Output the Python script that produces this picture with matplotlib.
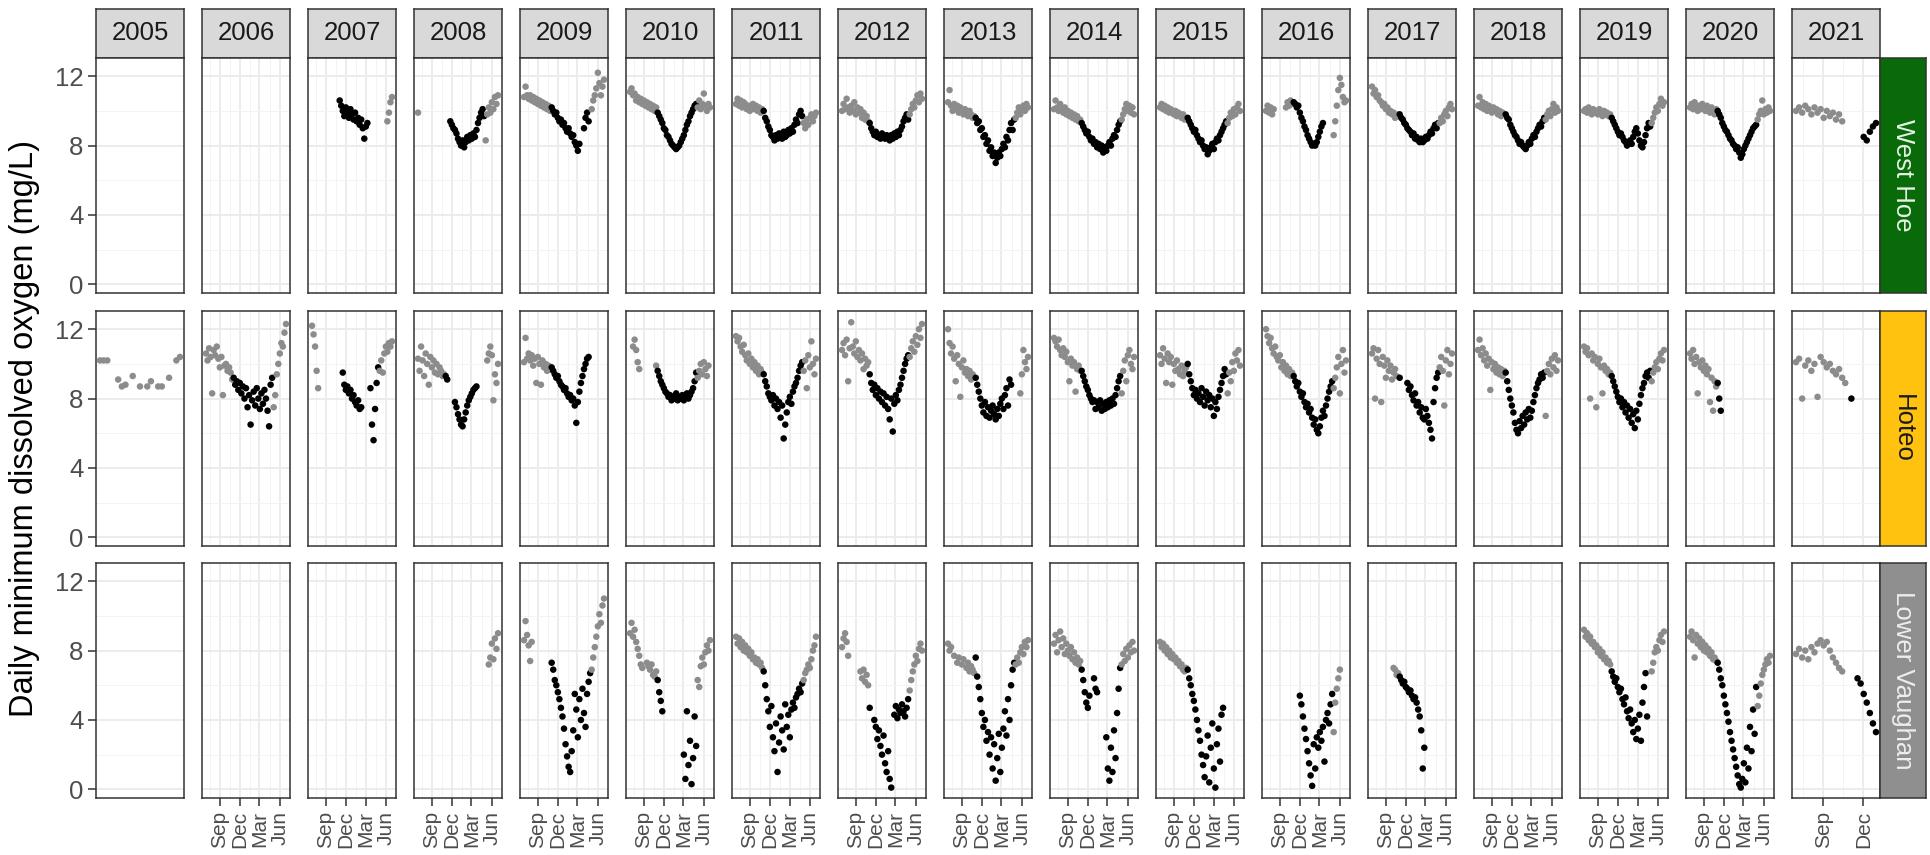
import datetime as dt

import matplotlib
matplotlib.use("Agg")
import matplotlib.dates as mdates
import matplotlib.pyplot as plt

plt.rcParams["font.family"] = ["Liberation Sans", "DejaVu Sans"]

YEARS = list(range(2005, 2022))
SITES = ["West Hoe", "Hoteo", "Lower Vaughan"]
STRIP_FILL = {"West Hoe": "#096a09", "Hoteo": "#ffc20e", "Lower Vaughan": "#8f8f8f"}
STRIP_INK = {"West Hoe": "#e4f3e4", "Hoteo": "#1a1a1a", "Lower Vaughan": "#eeeeee"}
SUMMER_MONTHS = (11, 12, 1, 2, 3, 4)
Y_TICKS = [0, 4, 8, 12]
Y_MINOR = [2, 6, 10]
Y_LABEL = "Daily minimum dissolved oxygen (mg/L)"

# Daily-minimum DO sampled weekly; each season starts 1 July of its year.
# season -> list of (first week after 1 July, consecutive weekly values)
WEST_HOE = {
    2007: [(18, [10.6, 10.3, 10.0, 9.7, 10.2, 9.9, 9.6, 10.1, 9.8, 9.5, 9.9, 9.4, 9.6, 9.2, 9.5, 9.0, 8.4, 9.1, 9.3]),
           (49, [9.4, 9.9, 10.5, 10.8])],
    2008: [(0, [9.9]),
           (21, [9.4, 9.2, 9.0, 8.9, 8.7, 8.4, 8.2, 8.0, 8.3, 7.9, 8.2, 8.5, 8.3, 8.6, 8.4, 8.7, 8.5, 8.9, 9.3, 9.6,
                 9.9, 10.1, 9.7,
                 8.3, 9.8, 10.2, 9.9, 10.5, 10.1, 10.8, 10.4, 10.9])],
    2009: [(0, [10.8, 11.4, 10.9, 10.7, 10.9, 10.6, 10.8, 10.5, 10.7, 10.4, 10.6, 10.3, 10.5, 10.2, 10.4, 10.1, 10.3, 10.0,
                10.2, 10.0, 9.8, 9.9, 9.6, 9.4, 9.5, 9.2, 9.3, 9.0, 8.8, 9.0, 8.7, 8.5, 8.6, 8.2, 8.0, 7.7, 8.1]),
           (39, [9.0, 9.6, 9.9, 9.4]),
           (44, [10.1, 10.6, 10.9, 11.3, 12.2, 11.6, 10.9, 11.4, 11.8])],
    2010: [(0, [11.1, 11.3, 10.9, 11.0, 10.6, 10.8, 10.5, 10.7, 10.4, 10.6, 10.3, 10.5, 10.2, 10.4, 10.1, 10.3, 10.0, 10.2,
                9.9, 9.7, 9.5, 9.3, 9.0, 8.9, 8.6, 8.5, 8.3, 8.1, 8.0, 7.9, 7.8, 7.9, 8.0, 8.2, 8.4, 8.6, 8.9, 9.2,
                9.4, 9.7, 9.9, 10.1, 10.3, 10.4,
                10.2, 10.6, 10.1, 10.4, 11.0, 10.3, 10.0, 10.4, 10.2])],
    2011: [(0, [10.4, 10.7, 10.3, 10.6, 10.2, 10.5, 10.4, 10.1, 10.3, 10.0, 10.2, 10.4, 10.1, 10.3, 10.0, 10.2, 9.9, 10.1,
                10.0, 9.6, 9.4, 9.1, 8.9, 8.6, 8.5, 8.3, 8.6, 8.4, 8.7, 8.5, 8.4, 8.8, 8.5, 8.6, 8.9, 8.7, 9.0, 8.8,
                9.2, 9.5, 9.3, 9.8, 10.0, 9.7,
                9.3, 9.0, 9.5, 9.2, 9.6, 9.8, 9.4, 9.7, 9.9])],
    2012: [(0, [10.0, 10.4, 10.1, 10.7, 10.2, 9.9, 10.3, 10.0, 10.5, 9.8, 10.2, 9.9, 10.1, 9.6, 9.9, 9.5, 9.7, 9.4,
                9.3, 9.0, 8.8, 8.6, 8.8, 8.5, 8.6, 8.4, 8.7, 8.5, 8.4, 8.6, 8.5, 8.3, 8.6, 8.4, 8.7, 8.5, 8.8, 8.6,
                8.9, 9.1, 9.4, 9.6, 9.8, 9.5,
                9.8, 10.1, 10.4, 10.2, 10.6, 10.9, 10.5, 11.0, 10.7])],
    2013: [(0, [10.5, 11.2, 10.3, 10.0, 10.4, 10.1, 10.3, 9.9, 10.2, 10.0, 9.8, 10.1, 9.9, 9.7, 10.0, 9.8, 9.6, 9.7,
                9.6, 9.3, 9.4, 8.9, 9.0, 8.5, 8.6, 8.1, 8.3, 7.7, 7.9, 7.4, 7.6, 7.0, 7.3, 7.6, 7.4, 7.8, 8.1, 7.9,
                8.5, 8.3, 8.9, 9.3, 8.9, 9.5,
                9.6, 9.9, 10.2, 9.8, 10.1, 10.3, 10.0, 10.4, 10.2])],
    2014: [(0, [10.1, 10.6, 10.2, 10.0, 10.4, 10.1, 9.9, 10.2, 9.8, 10.0, 9.7, 9.9, 9.6, 9.8, 9.5, 9.7, 9.4, 9.5,
                9.3, 9.1, 8.9, 8.7, 8.8, 8.5, 8.3, 8.4, 8.1, 8.2, 7.9, 8.1, 7.8, 8.0, 7.6, 7.9, 7.7, 8.0, 8.2, 8.0,
                8.4, 8.6, 8.5, 8.9, 9.2, 9.4,
                9.5, 9.8, 10.1, 10.4, 10.0, 10.3, 9.9, 10.2, 9.8])],
    2015: [(0, [10.2, 10.4, 10.1, 10.3, 10.0, 10.2, 9.9, 10.1, 10.0, 9.8, 10.0, 9.7, 9.9, 9.8, 9.6, 9.8, 9.5, 9.6,
                9.6, 9.4, 9.2, 9.0, 8.8, 8.9, 8.6, 8.4, 8.2, 8.3, 8.0, 7.8, 7.9, 7.5, 7.7, 7.9, 8.1, 7.8, 8.2, 8.4,
                8.3, 8.6, 8.8, 9.0, 9.2, 9.4,
                9.3, 9.6, 9.9, 9.7, 10.1, 9.8, 10.2, 10.4, 10.0])],
    2016: [(0, [10.0, 10.3, 9.9, 10.2, 9.8, 10.1]),
           (13, [10.2, 10.5, 10.3, 10.6, 10.4,
                 10.5, 10.4, 10.2, 10.3, 9.9, 9.6, 9.4, 9.1, 8.9, 8.6, 8.4, 8.2, 8.0, 8.1, 8.0, 8.2, 8.5, 8.8, 9.1, 9.3]),
           (44, [8.6, 9.4, 10.3, 11.2, 11.9, 11.5, 10.8, 10.5, 10.6])],
    2017: [(0, [11.4, 11.0, 11.2, 10.8, 10.9, 10.6, 10.5, 10.3, 10.4, 10.1, 10.2, 9.9, 10.0, 9.8, 9.9, 9.6, 9.7, 9.8,
                9.8, 9.6, 9.5, 9.3, 9.2, 9.0, 8.9, 8.8, 8.6, 8.7, 8.4, 8.5, 8.3, 8.2, 8.4, 8.2, 8.3, 8.5, 8.4, 8.6,
                8.8, 8.7, 9.0, 9.2, 9.0, 9.3,
                9.3, 9.6, 9.4, 9.8, 10.0, 9.7, 10.2, 10.4, 10.1])],
    2018: [(0, [10.3, 10.8, 10.2, 10.5, 10.1, 10.4, 10.0, 10.3, 10.2, 9.9, 10.2, 10.0, 10.1, 9.8, 10.0, 9.7, 9.9, 9.8,
                9.8, 9.6, 9.5, 9.2, 9.0, 8.8, 8.6, 8.5, 8.3, 8.1, 8.2, 8.0, 7.9, 7.8, 8.0, 8.2, 8.1, 8.4, 8.6, 8.5,
                8.8, 9.0, 9.2, 9.1, 9.4, 9.6,
                9.5, 9.8, 10.0, 9.7, 10.1, 10.4, 9.9, 10.2, 10.0])],
    2019: [(0, [10.0, 10.1, 9.9, 10.2, 10.0, 9.8, 10.1, 9.9, 10.0, 9.8, 10.1, 9.9, 9.7, 10.0, 9.8, 9.9, 9.7, 9.8,
                9.6, 9.4, 9.2, 9.0, 8.8, 8.6, 8.7, 8.5, 8.3, 8.2, 8.0, 8.1, 8.3, 8.1, 8.5, 8.8, 9.0, 8.7, 8.3, 8.0,
                7.9, 8.2, 8.6, 9.0, 9.3, 9.1,
                9.3, 9.6, 9.9, 10.2, 10.0, 10.4, 10.7, 10.3, 10.5])],
    2020: [(0, [10.2, 10.4, 10.1, 10.5, 10.2, 10.0, 10.3, 10.1, 10.4, 10.2, 10.0, 10.3, 10.1, 9.9, 10.2, 10.0, 9.8, 10.1,
                10.0, 9.8, 9.6, 9.3, 9.1, 8.9, 8.8, 8.6, 8.4, 8.3, 8.1, 8.0, 7.8, 7.9, 7.6, 7.3, 7.5, 7.8, 8.0, 8.2,
                8.4, 8.6, 8.8, 9.0, 9.1, 9.2,
                9.5, 9.8, 10.0, 10.6, 9.8, 10.1, 9.9, 10.2, 10.0])],
    2021: [(0, [10.0, 10.2, 9.9, 10.3, 10.1, 9.8, 10.2, 9.9, 10.1, 9.6, 10.0, 9.7, 9.9, 9.5, 9.8, 9.4]),
           (22, [8.5, 8.3, 8.8, 9.1, 9.3])],
}

HOTEO = {
    2006: [(0, [10.6, 10.2, 10.9, 10.4, 8.3, 10.8, 10.5, 11.0, 10.3, 9.8, 10.4, 8.2, 9.9, 10.0, 9.6, 9.8, 9.5, 9.1,
                9.2, 8.8, 9.0, 8.5, 8.9, 8.3, 8.7, 8.0, 8.6, 7.5, 8.2, 6.5, 7.9, 8.4, 7.6, 8.6, 8.0, 7.4, 8.3, 7.7,
                8.5, 8.0, 7.3, 6.4, 8.8, 9.2,
                7.5, 8.2, 9.4, 10.0, 10.6, 11.2, 11.0, 11.8, 12.3])],
    2007: [(0, [12.2, 11.7, 11.0, 9.6, 8.6]),
           (20, [9.5, 8.8, 8.5, 8.7, 8.3, 8.5, 8.0, 8.2, 7.8, 7.6, 7.9, 7.4, 7.5]),
           (38, [8.6, 6.5, 5.6, 7.4, 8.9, 9.8,
                 9.6, 10.2, 9.5, 10.6, 11.0, 10.7, 11.2, 11.0, 11.3])],
    2008: [(0, [10.3, 9.6, 11.0, 10.2, 9.3, 10.6, 10.0, 8.8, 10.4, 9.8, 10.2, 9.5, 10.0, 9.4, 9.8, 9.6, 9.3, 9.4,
                9.3, 9.1]),
           (24, [7.8, 7.5, 7.1, 6.8, 6.5, 6.4, 6.8, 7.2, 7.6, 7.9, 8.1, 8.3, 8.5, 8.6, 8.7]),
           (45, [10.2, 10.6, 11.0, 10.5, 7.9, 9.4, 8.9, 10.0])],
    2009: [(0, [10.1, 11.5, 10.3, 10.6, 10.2, 10.5, 9.9, 10.3, 8.9, 10.4, 10.0, 8.8, 10.2, 9.8, 10.0, 9.6, 9.9, 9.7,
                9.8, 9.6, 9.4, 9.2, 9.3, 9.0, 8.8, 8.7, 8.5, 8.6, 8.3, 8.1, 8.2, 7.9, 8.0, 7.6, 6.6, 7.8, 8.4, 8.9,
                9.3, 9.7, 10.0, 10.3, 10.4])],
    2010: [(2, [11.0, 11.4, 10.8, 10.1, 9.7]),
           (17, [9.9,
                 9.6, 9.3, 9.0, 8.8, 8.6, 8.4, 8.3, 8.1, 8.2, 7.9, 8.1, 8.0, 8.3, 7.9, 8.1, 8.0, 8.2, 7.9, 8.1, 8.3,
                 8.0, 8.2, 8.4, 8.6, 9.0, 9.5,
                 9.2, 9.6, 10.0, 9.4, 10.1, 9.7, 9.3, 9.9])],
    2011: [(0, [11.6, 11.3, 11.5, 11.0, 10.7, 11.1, 10.5, 10.2, 10.6, 10.0, 10.3, 9.8, 10.1, 9.6, 9.9, 9.4, 9.7, 9.5,
                9.4, 9.0, 8.7, 8.3, 8.1, 7.9, 8.2, 7.6, 8.0, 7.4, 7.8, 6.9, 7.6, 5.7, 6.5, 7.2, 7.8, 8.1, 7.7, 8.4,
                8.7, 8.9, 9.2, 9.6, 9.9, 10.1,
                9.6, 10.2, 8.6, 10.5, 9.8, 11.3, 10.0, 9.4, 10.3])],
    2012: [(0, [10.8, 11.2, 10.5, 11.4, 9.0, 10.9, 12.4, 11.0, 10.6, 11.3, 10.4, 10.8, 10.2, 10.6, 9.7, 10.3, 9.9, 10.1,
                9.4, 8.9, 8.5, 8.8, 8.2, 8.6, 8.0, 8.4, 7.8, 8.3, 7.6, 8.1, 7.4, 6.8, 8.0, 6.1, 7.7, 8.2, 7.9, 8.5,
                8.8, 9.2, 9.6, 10.0, 10.3, 10.5,
                10.4, 10.9, 11.3, 10.7, 11.6, 11.1, 12.0, 11.5, 12.3])],
    2013: [(0, [12.0, 11.2, 10.6, 11.0, 10.3, 9.0, 10.5, 10.0, 8.1, 9.8, 10.2, 9.5, 9.7, 9.3, 9.6, 9.1, 9.4, 9.2,
                9.2, 8.8, 8.4, 8.0, 7.6, 7.2, 7.8, 7.0, 7.5, 6.9, 7.3, 7.6, 7.1, 6.8, 7.4, 7.0, 7.7, 8.0, 7.4, 8.2,
                8.6, 7.6, 9.1, 8.8]),
           (47, [8.3, 9.4, 10.8, 10.1, 9.7, 10.4])],
    2014: [(0, [11.5, 11.3, 11.0, 11.4, 10.8, 10.5, 10.9, 10.4, 10.7, 10.1, 9.0, 10.3, 9.9, 10.1, 8.4, 9.7, 9.9, 9.6,
                9.6, 9.3, 9.0, 8.7, 8.5, 8.2, 8.0, 7.8, 7.9, 7.4, 7.8, 7.5, 7.9, 7.3, 7.7, 7.4, 7.8, 7.5, 7.9, 7.6,
                8.0, 7.7, 8.2, 8.6, 9.0, 9.3,
                8.3, 9.6, 10.2, 9.0, 10.5, 10.8, 10.0, 9.7, 10.4])],
    2015: [(0, [10.5, 10.0, 10.9, 10.3, 8.9, 10.6, 10.1, 10.4, 8.8, 10.0, 9.6, 10.2, 9.7, 9.4, 9.9, 9.3, 9.6, 9.8,
                10.0, 9.4, 9.0, 8.6, 8.2, 8.5, 8.0, 8.3, 7.8, 8.6, 8.1, 7.6, 8.4, 7.9, 8.2, 7.5, 8.0, 7.0, 7.8, 7.4,
                8.1, 8.5, 8.9, 9.3, 9.7, 9.4,
                8.3, 9.5, 9.0, 10.1, 9.6, 10.6, 10.2, 10.8, 9.9])],
    2016: [(0, [12.0, 11.6, 11.2, 11.5, 10.9, 10.6, 11.0, 10.4, 10.2, 10.5, 9.8, 10.1, 9.6, 9.9, 9.4, 9.7, 9.3, 9.5,
                9.3, 9.0, 8.7, 8.9, 8.4, 8.1, 8.3, 7.8, 7.5, 7.7, 7.2, 7.4, 6.9, 6.5, 6.8, 6.2, 6.0, 6.4, 6.9, 7.3,
                7.0, 7.6, 8.0, 8.4, 8.7, 9.0,
                8.6, 9.2, 9.8, 10.4, 8.3, 10.0, 10.8, 9.5, 10.2])],
    2017: [(0, [10.6, 10.9, 8.0, 10.3, 10.8, 10.0, 7.8, 10.4, 9.9, 9.2, 10.2, 9.6, 9.9, 9.1, 9.5, 9.7, 9.3]),
           (18, [9.2]),
           (23, [8.9, 8.5, 8.7, 8.2, 7.9, 8.3, 7.6, 7.8, 7.2, 7.5, 6.9, 6.8, 7.4, 7.0, 6.6, 6.2, 5.7, 7.8, 8.6,
                 9.2, 9.5,
                 9.8, 10.4, 9.6, 7.6, 10.2, 10.8, 9.4, 10.0, 10.6])],
    2018: [(0, [10.8, 11.4, 10.5, 10.9, 10.2, 10.6, 9.9, 10.3, 8.5, 10.1, 9.7, 10.0, 9.5, 9.8, 9.4, 9.7, 9.3, 9.6,
                9.5, 9.0, 8.5, 8.0, 7.6, 7.2, 6.6, 6.2, 6.0, 6.7, 6.3, 7.0, 6.5, 7.2, 6.8, 7.4, 6.9, 7.3, 7.8, 8.2,
                8.6, 8.9, 9.1, 9.4, 9.2, 9.5,
                7.0, 9.6, 10.0, 9.4, 10.3, 9.8, 10.5, 9.6, 10.2])],
    2019: [(0, [11.0, 10.7, 10.9, 10.5, 8.0, 10.6, 10.2, 10.4, 7.5, 10.0, 10.3, 9.8, 8.3, 9.9, 9.6, 9.7, 9.4, 9.5,
                9.3, 9.0, 8.7, 8.4, 8.1, 7.8, 8.0, 7.5, 7.8, 7.2, 7.6, 6.9, 7.4, 6.6, 7.1, 6.3, 7.3, 6.8, 7.7, 8.2,
                8.6, 8.9, 9.3, 9.5, 9.2, 9.6,
                9.0, 9.5, 9.8, 10.1, 9.7, 10.3, 10.6, 10.2, 10.8])],
    2020: [(0, [10.6, 10.3, 10.8, 10.0, 10.4, 8.3, 10.1, 9.8, 10.2, 9.6, 9.9, 9.4, 9.7, 7.8, 9.2, 7.3, 9.0, 8.7,
                8.9, 8.0, 7.3])],
    2021: [(0, [10.1, 10.3, 8.0, 9.9, 10.2, 9.6, 10.0, 8.1, 10.4, 10.1, 9.8, 10.0, 9.6, 9.4, 9.7, 9.2, 8.9]),
           (18, [8.0])],
}

# short run of daily readings at Hoteo in July 2005: (first day after 1 July, values)
HOTEO_2005_DAILY = [(3, [10.2, 10.2, 10.2]), (8, [9.1, 8.7, 8.8]), (12, [9.3]), (14, [8.7]),
                    (16, [8.7, 9.0]), (19, [8.7, 8.7]), (22, [9.2]), (24, [10.2, 10.4])]

LOWER_VAUGHAN = {
    2008: [(46, [7.2, 7.6, 8.4, 7.5, 8.7, 8.1, 9.0])],
    2009: [(0, [8.6, 9.7, 8.9, 8.3, 7.4, 8.5]),
           (18, [7.3, 6.9, 6.3, 6.0, 5.6, 5.2, 4.7, 4.2, 3.5, 2.6, 1.9, 1.3, 1.0, 2.2, 3.4, 5.5, 4.6, 3.0, 5.2, 4.0,
                 5.8, 4.4, 3.6, 5.5, 6.2, 6.7,
                 6.9, 7.6, 8.2, 8.8, 9.4, 10.1, 9.6, 10.6, 11.0])],
    2010: [(0, [9.0, 9.6, 8.8, 9.2, 8.5, 8.1, 7.7, 7.2, 7.0]),
           (11, [7.3, 7.1, 6.9, 7.2, 6.6, 6.5, 6.8, 6.3, 5.6, 5.1, 4.5]),
           (35, [2.0, 0.6, 4.5, 1.4, 2.8, 0.3, 1.8, 4.2, 2.5,
                 6.3, 5.9, 7.1, 7.6, 7.2, 7.9, 8.3, 8.0, 8.6])],
    2011: [(0, [8.8, 8.4, 8.7, 8.2, 8.5, 8.0, 8.3, 7.9, 8.1, 7.7, 7.9, 7.5, 7.6, 7.3, 7.5, 7.2, 7.3, 7.0,
                6.8, 6.0, 5.2, 4.5, 3.6, 4.8, 3.0, 2.2, 3.8, 1.0, 2.7, 4.2, 3.4, 2.3, 4.9, 3.6, 4.3, 3.0, 4.6, 5.0,
                4.7, 5.3, 5.5, 5.8, 5.6, 6.1,
                6.3, 6.7, 6.9, 7.2, 7.0, 7.5, 8.0, 8.3, 8.8])],
    2012: [(0, [8.2, 8.7, 9.0, 8.5, 7.7]),
           (12, [6.8, 6.4, 6.9, 6.2, 6.6, 6.0, 4.7]),
           (21, [4.0, 3.6, 2.9, 3.4, 2.5, 2.0, 3.1, 1.5, 1.0, 2.2, 0.6, 0.1]),
           (34, [4.3, 4.8, 4.1, 4.6, 4.4, 4.9, 4.5, 4.2, 4.7, 5.2,
                 5.7, 6.3, 6.8, 7.2, 7.7, 7.4, 8.1, 8.4, 8.0])],
    2013: [(0, [8.4, 8.0, 8.2]), (4, [7.7]), (6, [7.3, 7.6]), (9, [7.2, 7.5]),
           (12, [7.0, 7.3, 6.8, 7.1, 6.9, 6.7,
                 7.6, 6.5, 5.9, 5.2, 4.4, 3.6, 4.0, 2.8, 3.3, 2.0, 3.0, 1.2, 2.6, 0.5, 1.8, 3.2, 1.0, 2.4, 3.5, 4.5,
                 3.1, 5.2, 4.0, 6.0, 6.9, 7.3,
                 7.2, 7.6, 7.3, 7.9, 8.2, 7.8, 8.5, 8.2, 8.6])],
    2014: [(0, [8.4, 8.9, 7.9, 8.6, 9.1, 8.2, 8.7, 7.8, 8.4, 8.0, 7.7, 8.2, 7.5, 7.9, 7.3, 7.6, 7.2, 7.4,
                6.9, 6.3, 5.6, 5.0, 4.7, 5.4]),
           (26, [6.4, 5.8, 5.6]),
           (34, [3.0, 1.2, 0.5, 2.4, 1.0, 3.4, 1.8, 4.4, 5.8, 7.0,
                 7.2, 7.8, 7.4, 8.1, 7.6, 8.3, 7.9, 8.5, 8.0])],
    2015: [(0, [8.5, 8.2, 8.4, 8.0, 8.2, 7.8, 8.0, 7.6, 7.8, 7.5, 7.6, 7.3, 7.4, 7.1, 7.2, 6.9, 6.8, 7.0,
                6.9, 6.4, 6.0, 5.5, 5.1, 4.6, 4.0, 3.4, 2.8, 2.0, 1.4, 0.7, 1.9, 3.1, 0.4, 2.4, 3.8, 1.2, 0.1, 2.6,
                3.5, 1.6, 4.3, 4.7])],
    2016: [(22, [5.4, 4.9, 4.2, 3.5, 2.9, 2.2, 1.5, 0.8, 0.2, 2.6, 1.2, 3.0, 2.4, 3.3, 2.8, 3.6, 1.6, 4.0, 4.4, 3.8,
                 4.9, 5.5,
                 3.3, 5.0, 5.8, 6.4, 6.9])],
    2017: [(14, [7.0, 6.9, 6.6, 6.7,
                 6.5, 6.3, 6.1, 6.2, 5.9, 5.8, 5.6, 5.7, 5.4, 5.2, 5.3, 5.0, 4.6, 4.2, 3.4, 1.2, 2.4])],
    2019: [(0, [9.2, 8.8, 9.0, 8.6, 8.8, 8.4, 8.5, 8.2, 8.3, 7.9, 8.1, 7.7, 7.9, 7.5, 7.6, 7.3, 7.4, 7.2,
                6.8, 6.5, 6.2, 6.4, 5.9, 5.6, 5.8, 5.2, 4.9, 5.3, 4.5, 4.1, 4.6, 3.8, 3.3, 4.0, 2.9, 3.5, 4.3, 2.8,
                5.0, 5.9, 6.7, 4.2]),
           (44, [6.8, 7.3, 7.9, 8.2, 8.0, 8.6, 8.9, 8.5, 9.1])],
    2020: [(0, [8.8, 9.1, 8.6, 7.6, 8.9, 8.4, 8.7, 8.2, 8.5, 8.0, 8.3, 7.9, 8.1, 7.7, 7.9, 7.5, 7.6, 7.4,
                7.3, 6.9, 6.4, 6.0, 5.4, 4.9, 4.4, 3.9, 3.3, 2.8, 2.3, 1.8, 1.3, 0.8, 0.3, 0.1, 0.6, 1.5, 0.4, 2.4,
                1.2, 3.6, 2.2, 4.6, 3.2, 5.9,
                4.8, 5.4, 6.1, 6.6, 6.9, 7.2, 7.5, 7.3, 7.7])],
    2021: [(0, [7.8, 8.1, 7.6, 8.0, 7.5, 8.2, 7.9, 8.4, 8.6, 8.3, 8.5, 8.0, 7.6, 7.3, 7.0, 6.8]),
           (20, [6.4, 6.1, 5.5, 5.0, 4.4, 3.8, 3.3])],
}

# figure layout in pixels
W, H = 1930, 855
COL_X0, COL_DX, PANEL_W = 96, 106, 88
ROW_TOPS = [58, 311, 563]
PANEL_H = 235
TOP_STRIP_Y, TOP_STRIP_H = 9, 49
SIDE_STRIP_W = 46
EDGE = "#333333"


def px_axes(fig, left, top, width, height):
    return fig.add_axes([left / W, 1 - (top + height) / H, width / W, height / H])


def expand(year, runs, step=7):
    start = dt.date(year, 7, 1)
    dates, vals = [], []
    for first, values in runs:
        for i, v in enumerate(values):
            dates.append(start + dt.timedelta(days=(first + i) * step))
            vals.append(v)
    return dates, vals


def add_months(d, n):
    m = d.month - 1 + n
    return dt.date(d.year + m // 12, m % 12 + 1, 1)


series = {site: {} for site in SITES}
for site, table in zip(SITES, (WEST_HOE, HOTEO, LOWER_VAUGHAN)):
    for year, runs in table.items():
        series[site][year] = expand(year, runs)
series["Hoteo"][2005] = expand(2005, HOTEO_2005_DAILY, step=1)

fig = plt.figure(figsize=(W / 100, H / 100), dpi=100)

for j, year in enumerate(YEARS):
    left = COL_X0 + j * COL_DX
    col_dates = [d for site in SITES for d in series[site].get(year, ([], []))[0]]
    lo, hi = mdates.date2num(min(col_dates)), mdates.date2num(max(col_dates))
    pad = 0.05 * (hi - lo)
    xlim = (lo - pad, hi + pad)

    # three-monthly breaks from the first of the month at the range start, minors halfway
    anchor = mdates.num2date(xlim[0]).date().replace(day=1)
    majors = [mdates.date2num(add_months(anchor, 3 * k)) for k in range(-1, 7)]
    minors = [(a + b) / 2 for a, b in zip(majors[:-1], majors[1:])]
    majors_in = [m for m in majors if xlim[0] <= m <= xlim[1]]
    minors_in = [m for m in minors if xlim[0] <= m <= xlim[1]]

    strip = px_axes(fig, left, TOP_STRIP_Y, PANEL_W, TOP_STRIP_H)
    strip.set_facecolor("#d9d9d9")
    strip.set_xticks([])
    strip.set_yticks([])
    for sp in strip.spines.values():
        sp.set_color(EDGE)
        sp.set_linewidth(1.1)
    strip.text(0.5, 0.5, str(year), ha="center", va="center", fontsize=18.5,
               color="#1a1a1a", transform=strip.transAxes)

    for i, site in enumerate(SITES):
        ax = px_axes(fig, left, ROW_TOPS[i], PANEL_W, PANEL_H)
        ax.set_xlim(*xlim)
        ax.set_ylim(-0.5, 13.05)
        ax.set_axisbelow(True)

        if year in series[site]:
            dates, vals = series[site][year]
            colours = ["#000000" if d.month in SUMMER_MONTHS else "#8c8c8c" for d in dates]
            ax.scatter(mdates.date2num(dates), vals, s=22, c=colours, linewidths=0, zorder=3)

        ax.set_xticks(majors_in)
        ax.set_xticks(minors_in, minor=True)
        ax.set_yticks(Y_TICKS)
        ax.set_yticks(Y_MINOR, minor=True)
        ax.grid(which="major", color="#ebebeb", linewidth=1.3)
        ax.grid(which="minor", color="#f3f3f3", linewidth=0.7)
        ax.tick_params(which="minor", length=0)

        bottom = i == len(SITES) - 1
        if bottom:
            ax.set_xticklabels([mdates.num2date(m).strftime("%b") for m in majors_in])
            ax.tick_params(axis="x", which="major", length=6, width=1.1, color=EDGE,
                           labelsize=15, labelcolor="#4d4d4d", labelrotation=90, pad=3)
        else:
            ax.tick_params(axis="x", which="major", length=0, labelbottom=False)

        if j == 0:
            ax.set_yticklabels([str(t) for t in Y_TICKS])
            ax.tick_params(axis="y", which="major", length=6, width=1.1, color=EDGE,
                           labelsize=18.5, labelcolor="#4d4d4d", pad=3)
        else:
            ax.tick_params(axis="y", which="major", length=0, labelleft=False)

        for sp in ax.spines.values():
            sp.set_color(EDGE)
            sp.set_linewidth(1.1)

        if j == len(YEARS) - 1:
            side = px_axes(fig, left + PANEL_W, ROW_TOPS[i], SIDE_STRIP_W, PANEL_H)
            side.set_facecolor(STRIP_FILL[site])
            side.set_xticks([])
            side.set_yticks([])
            for sp in side.spines.values():
                sp.set_color(EDGE)
                sp.set_linewidth(1.1)
            side.text(0.5, 0.5, site, ha="center", va="center", rotation=270, fontsize=18.5,
                      color=STRIP_INK[site], transform=side.transAxes)

fig.text(25 / W, 1 - 428 / H, Y_LABEL, rotation=90, ha="center", va="center", fontsize=23.5)

fig.savefig("out.png", dpi=100)
